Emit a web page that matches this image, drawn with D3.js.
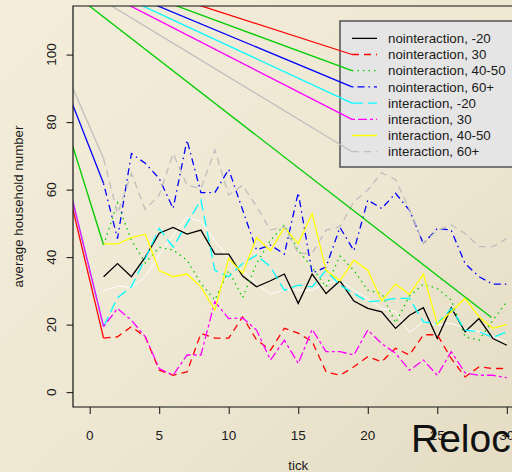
<!DOCTYPE html>
<html><head><meta charset="utf-8">
<script src="https://cdn.jsdelivr.net/npm/d3@7"></script>
<style>
html,body{margin:0;padding:0;overflow:hidden;background:#efe8d4;}
text{font-family:"Liberation Sans",Arial,sans-serif;}
</style></head>
<body>
<svg id="c" width="512" height="472"></svg>
<script>
// ---------------- data ----------------
const ticks = [1,2,3,4,5,6,7,8,9,10,11,12,13,14,15,16,17,18,19,20,21,22,23,24,25,26,27,28,29,30];
const seriesNames = ["nointeraction, -20","nointeraction, 30","nointeraction, 40-50","nointeraction, 60+",
                     "interaction, -20","interaction, 30","interaction, 40-50","interaction, 60+"];
const noint20  = [34.2,38.1,34.2,40,47.1,48.8,46.8,48,40.9,40.9,34.4,31.2,33,35,26.3,35,29.2,33,27,24.8,23.8,18.9,22.8,25,15.9,25,17.9,21.8,15.9,13.9];
const noint30  = [16,16.4,19.4,16.4,6.5,5,6,17.4,16,16,22.3,15.5,12.4,18.9,17.5,15,6,5,7.5,10.5,9,13,11,17,17,10,4.5,7.5,7,7];
const noint4050= [43.6,56.1,45,38.3,42.9,42.1,39.1,32.2,27.3,36,28,38.1,45,49.5,42,36.9,31.2,40.3,36.1,30.2,29.2,20.5,28.5,32,30.7,27.3,16.4,15.4,21.3,26.8];
const noint60  = [61.8,45.5,70.7,67.8,63.3,54.4,74.7,59.1,59.1,66,54,42.1,43.6,40.9,59.1,35.2,37.1,48.8,41.9,56.9,54.4,58.9,53.9,44,48.5,48,38.1,34.2,32,32];
const int20    = [19.4,28,31.2,39.6,48.5,43,50,56.9,36.1,34.2,38.1,40.6,37.1,30.2,31.7,31.2,36.1,31.7,29.2,26.8,27.1,27.8,27.8,20.8,20.3,24.8,18.4,17.9,16.2,17.9];
const int30    = [19.4,24.8,21.3,16.4,7,5,11,11,26.8,21.8,22,18.4,9.5,15.4,8.5,18.6,12,12,11,18.4,14.4,11.5,6.5,9.5,5,12,5.7,5,5,4.3];
const int4050  = [43.9,43.9,45.8,46.8,36,34.2,35,31.2,24.3,39.6,35.2,45.8,41.9,48.8,44,52.9,36.1,33,39.1,36.1,27.1,32,29,35,20.1,23.8,27.8,22.3,18.9,20.1];
const int60    = [69.2,52.9,64.8,54.1,58.4,70.7,61.3,60.3,71.7,58.4,61.3,55,48,49,41.1,41.1,48,49,56.4,59.9,65,63,54,44,48,49.5,47,43.1,43.1,45.5];
const whiteSeries = [30,31.4,31,34.2,40.6,46.5,51.8,50.5,45,39.6,36,32,29,30.4,30.2,30.2,32.2,33.2,30.2,27.8,24.8,23.8,17.6,21,19.9,20.4,18.9,17.9,16.6,14.9];
const seriesValues = [noint20,noint30,noint4050,noint60,int20,int30,int4050,int60];
// common start point of the stray lines (data units, outside the plot)
const origin = [-5.75, 132.7];
const leadIn = [false,true,true,true,true,true,false,true];
const strayEnd = [28.9, 22.1];   // extra green straight line end
const xTicks = [0,5,10,15,20,25,30];
const yTicks = [0,20,40,60,80,100];

// ---------------- styles ----------------
const colors = ["#000000","#ff0000","#00cd00","#0000ff","#00ffff","#ff00ff","#ffff00","#bebebe"];
const dashes = [null,"7,5","1.5,4","1.5,4,7,4","11,5","3,3,9,3",null,"7,5"];

// ---------------- layout ----------------
const svg = d3.select("#c");
const defs = svg.append("defs");
const grad = defs.append("linearGradient").attr("id","bg").attr("x1","0").attr("y1","0").attr("x2","1").attr("y2","1");
grad.append("stop").attr("offset","0").attr("stop-color","#f3edda");
grad.append("stop").attr("offset","0.55").attr("stop-color","#eee7d2");
grad.append("stop").attr("offset","1").attr("stop-color","#e4dcc3");
svg.append("rect").attr("width",512).attr("height",472).attr("fill","url(#bg)");

const L=73, T=6, R=523.5, B=407;
const x = d3.scaleLinear().domain([-1.2,31.2]).range([L,R]);
const y = d3.scaleLinear().domain([-4.4,114.4]).range([B,T]);

defs.append("clipPath").attr("id","clip").append("rect")
  .attr("x",L).attr("y",T).attr("width",R-L).attr("height",B-T);

const plot = svg.append("g").attr("clip-path","url(#clip)");
const line = d3.line().x(d=>x(d[0])).y(d=>y(d[1]));

// white series
plot.append("path").datum(ticks.map((t,i)=>[t,whiteSeries[i]]))
  .attr("d",line).attr("fill","none").attr("stroke","#ffffff").attr("stroke-width",1);

seriesValues.forEach((vals,k)=>{
  const pts = ticks.map((t,i)=>[t,vals[i]]);
  if (leadIn[k]) {
    plot.append("path").datum([origin, pts[0]]).attr("d",line)
      .attr("fill","none").attr("stroke",colors[k]).attr("stroke-width",1.3);
  }
  plot.append("path").datum(pts).attr("d",line)
    .attr("fill","none").attr("stroke",colors[k]).attr("stroke-width",1.3)
    .attr("stroke-dasharray",dashes[k]);
});
// stray green straight line
plot.append("path").datum([origin, strayEnd]).attr("d",line)
  .attr("fill","none").attr("stroke",colors[2]).attr("stroke-width",1.3);

// ---------------- legend ----------------
const lgX=340, lgY=21, lgW=200, lgH=146, rowH=16.2, row0=38.3, sx1=352, sx2=377, tx=388;
plot.append("rect").attr("x",lgX).attr("y",lgY).attr("width",lgW).attr("height",lgH)
  .attr("fill","#e5e5e5").attr("stroke","#5a5a5a").attr("stroke-width",1.6);
seriesNames.forEach((nm,k)=>{
  const yy = row0 + k*rowH;
  if (leadIn[k]) {
    plot.append("line").attr("x1",x(origin[0])).attr("y1",y(origin[1])).attr("x2",sx1).attr("y2",yy)
      .attr("stroke",colors[k]).attr("stroke-width",1.3);
  }
  plot.append("line").attr("x1",sx1).attr("y1",yy).attr("x2",sx2).attr("y2",yy)
    .attr("stroke",colors[k]).attr("stroke-width",1.3).attr("stroke-dasharray",dashes[k]);
  svg.append("text").attr("x",tx).attr("y",yy).attr("dy","0.35em")
    .attr("font-size","13.3px").attr("fill","#1a1a1a").text(nm);
});

// ---------------- axes / box ----------------
svg.append("path").attr("d",`M${R+5},${T}H${L}V${B}H${R+5}`).attr("fill","none").attr("stroke","#111").attr("stroke-width",1.2);

const xa = svg.append("g").attr("transform",`translate(0,${B})`)
  .call(d3.axisBottom(x).tickValues(xTicks).tickSize(7).tickFormat(""));
xa.select(".domain").remove();
xa.selectAll("line").attr("stroke","#111");
xTicks.forEach(v=>{
  svg.append("text").attr("x",x(v)).attr("y",439.5).attr("text-anchor","middle")
    .attr("font-size","13.5px").attr("fill","#1a1a1a").text(v);
});
const ya = svg.append("g").attr("transform",`translate(${L},0)`)
  .call(d3.axisLeft(y).tickValues(yTicks).tickSize(6.5).tickFormat(""));
ya.select(".domain").remove();
ya.selectAll("line").attr("stroke","#111");
yTicks.forEach(v=>{
  svg.append("text").attr("transform",`translate(56,${y(v)}) rotate(-90)`).attr("text-anchor","middle")
    .attr("font-size","13.5px").attr("fill","#1a1a1a").text(v);
});

svg.append("text").attr("transform",`translate(22.5,${(T+B)/2}) rotate(-90)`).attr("text-anchor","middle")
  .attr("font-size","13.3px").attr("fill","#1a1a1a").text("average household number");
svg.append("text").attr("x",(L+R)/2).attr("y",470).attr("text-anchor","middle")
  .attr("font-size","13.3px").attr("fill","#1a1a1a").text("tick");

svg.append("text").attr("x",411).attr("y",451.5).attr("font-size","39px")
  .attr("fill","#111").text("Relocation");
</script>
</body></html>
